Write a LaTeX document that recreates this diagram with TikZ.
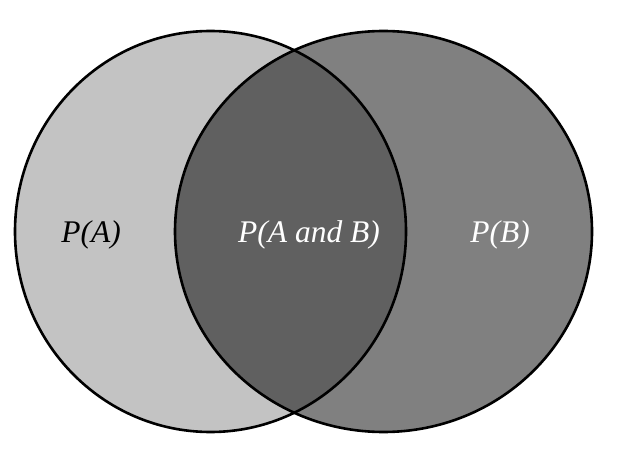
\documentclass[tikz,border=0pt]{standalone}
\usepackage{fontspec}
\setmainfont{Liberation Serif}
\definecolor{setA}{RGB}{195,195,195}
\definecolor{setB}{RGB}{128,128,128}
\definecolor{setAB}{RGB}{96,96,96}
\begin{document}
\begin{tikzpicture}[x=1pt,y=1pt,
  outline/.style={draw=black,line width=2.6pt},
  label/.style={font=\fontsize{31.5}{36}\selectfont\itshape,inner sep=0pt}]
\useasboundingbox (0,0) rectangle (636,458);
% the two sets
\def\setApath{(210.5,226.5) ellipse [x radius=195.5, y radius=200.5]}
\def\setBpath{(383.5,226.5) ellipse [x radius=208.5, y radius=200.5]}
\fill[setA] \setApath;
\fill[setB] \setBpath;
% overlap
\begin{scope}
  \clip \setApath;
  \fill[setAB] \setBpath;
\end{scope}
\draw[outline] \setApath;
\draw[outline] \setBpath;
% labels
\node[label,text=black] (pa) at (91,223) {P(A)};
\node[label,text=white] (pab) at (309,223) {P(A and B)};
\node[label,text=white] (pb) at (500,223) {P(B)};
\end{tikzpicture}
\end{document}
